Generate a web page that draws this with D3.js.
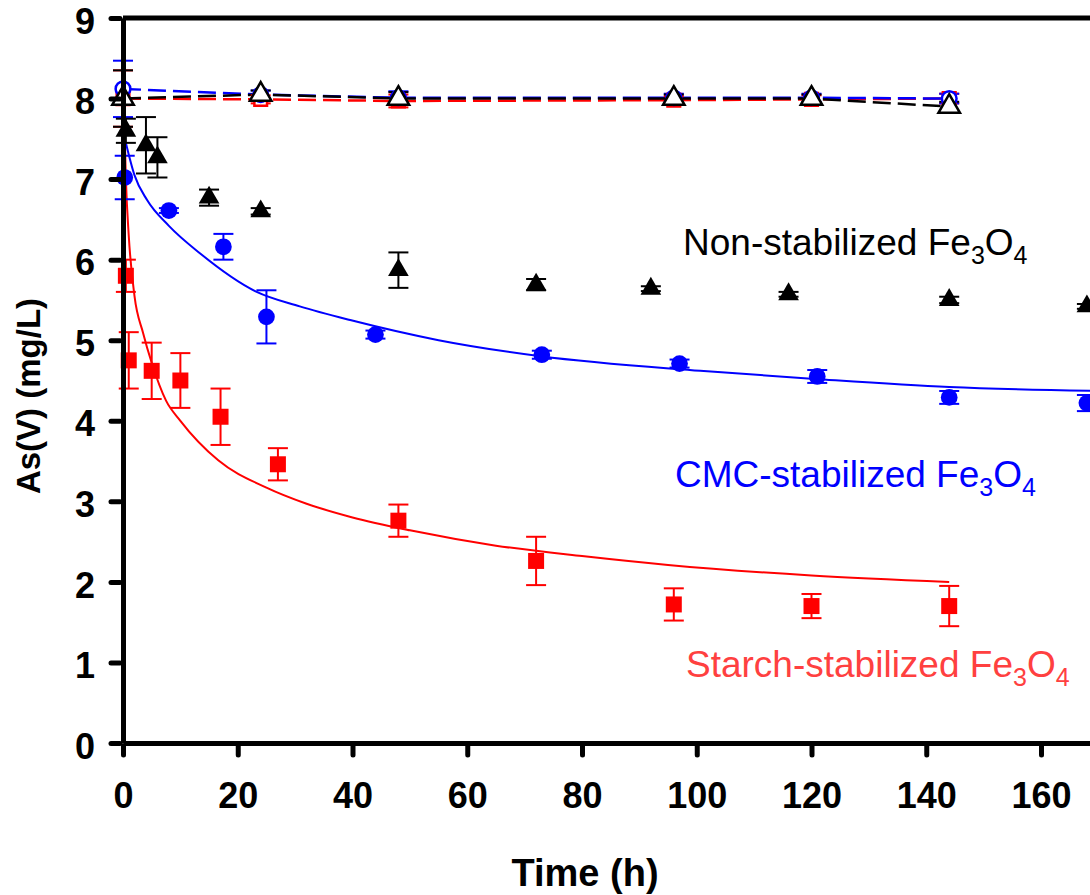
<!DOCTYPE html>
<html>
<head>
<meta charset="utf-8">
<script src="https://cdn.jsdelivr.net/npm/d3@7"></script>
<style>
  body { margin: 0; background: #fff; }
  svg { display: block; font-family: Arial, "Liberation Sans", sans-serif; }
</style>
</head>
<body>
<div id="graph"></div>
<script>
// measured points (time in h, As(V) in mg/L, sd)
const starchT = [0.5, 1, 5, 10, 17, 27, 48, 72, 96, 120, 144];
const starchV = [5.8, 4.75, 4.62, 4.5, 4.05, 3.46, 2.76, 2.26, 1.72, 1.7, 1.7];
const starchE = [0.2, 0.35, 0.35, 0.34, 0.35, 0.2, 0.2, 0.3, 0.2, 0.15, 0.25];

const cmcT = [0.3, 8, 17.5, 25, 44, 73, 97, 121, 144, 168];
const cmcV = [7.02, 6.61, 6.16, 5.29, 5.07, 4.82, 4.71, 4.55, 4.29, 4.22];
const cmcE = [0.27, 0.03, 0.16, 0.33, 0.05, 0.05, 0.05, 0.08, 0.08, 0.1];

const bareT = [0.5, 4, 6, 15, 24, 48, 72, 92, 116, 144, 168];
const bareV = [7.6, 7.42, 7.27, 6.77, 6.6, 5.87, 5.69, 5.64, 5.57, 5.5, 5.42];
const bareE = [0.15, 0.35, 0.25, 0.1, 0.04, 0.22, 0.07, 0.03, 0.03, 0.04, 0.03];

// controls without nanoparticles
const ctrlT = [0, 24, 48, 96, 120, 144];
const ctrlStarchV = [8.0, 7.99, 7.97, 7.98, 7.99, 8.0];
const ctrlCmcV = [8.12, 8.05, 8.01, 8.01, 8.01, 8.0];
const ctrlBareV = [8.0, 8.05, 8.0, 8.0, 8.0, 7.9];
const ctrlE = [0.35, 0.05, 0.08, 0.05, 0.05, 0.06];

// fitted model curves
const starchFitT = [0.15, 0.5, 1, 2, 3.5, 5, 7.5, 10, 16.6, 25, 32, 40, 50, 65, 80, 95, 120, 144];
const starchFitV = [7.95, 7.0, 6.3, 5.55, 5.09, 4.72, 4.25, 4.0, 3.51, 3.17, 2.97, 2.8, 2.64, 2.45, 2.32, 2.21, 2.08, 2.0];
const cmcFitT = [0.5, 2, 4.2, 8, 13.4, 23.3, 30.8, 39.6, 55, 72.8, 100.6, 120.6, 144, 170];
const cmcFitV = [7.45, 7.05, 6.74, 6.42, 6.08, 5.6, 5.42, 5.25, 5.0, 4.8, 4.62, 4.52, 4.42, 4.37];

const xTicks = [0, 20, 40, 60, 80, 100, 120, 140, 160];
const yTicks = [0, 1, 2, 3, 4, 5, 6, 7, 8, 9];

const w = 1090;
const h = 895;

const xScale = d3.scaleLinear().domain([0, 170]).range([123, 123 + 170 * 5.7375]);
const yScale = d3.scaleLinear().domain([0, 9]).range([743, 18]);

const svg = d3.select('#graph').append('svg').attr('width', w).attr('height', h);

const RED = '#ff0000', BLUE = '#0000ff', BLACK = '#000000';

// top frame line
svg.append('line')
  .attr('x1', xScale(0)).attr('x2', xScale(170))
  .attr('y1', yScale(9)).attr('y2', yScale(9))
  .attr('stroke', BLACK).attr('stroke-width', 5);

const zip = (t, v, e) => t.map((d, i) => ({t: d, v: v[i], e: e ? e[i] : 0}));

function errorBars(data, color) {
  const g = svg.append('g').attr('stroke', color).attr('stroke-width', 2);
  data.forEach((d) => {
    const x = xScale(d.t);
    g.append('line').attr('x1', x).attr('x2', x)
      .attr('y1', yScale(d.v - d.e)).attr('y2', yScale(d.v + d.e));
    [d.v - d.e, d.v + d.e].forEach((v) => {
      g.append('line').attr('x1', x - 10).attr('x2', x + 10)
        .attr('y1', yScale(v)).attr('y2', yScale(v));
    });
  });
}

function markers(data, type, size, fill, stroke) {
  svg.append('g').selectAll('path').data(data).enter().append('path')
    .attr('d', d3.symbol().type(type).size(size))
    .attr('transform', (d) => 'translate(' + xScale(d.t) + ',' + yScale(d.v) + ')')
    .attr('fill', fill).attr('stroke', stroke).attr('stroke-width', stroke == 'none' ? 0 : 2.5);
}

const line = d3.line().x((d) => xScale(d.t)).y((d) => yScale(d.v));

// dashed control lines
const controls = [
  {v: ctrlStarchV, c: RED},
  {v: ctrlCmcV, c: BLUE},
  {v: ctrlBareV, c: BLACK}
];
controls.forEach((s) => {
  svg.append('path').datum(zip(ctrlT, s.v))
    .attr('d', line).attr('fill', 'none')
    .attr('stroke', s.c).attr('stroke-width', 2.5).attr('stroke-dasharray', '18,7');
});
controls.forEach((s) => errorBars(zip(ctrlT, s.v, ctrlE), s.c));

// fitted curves
const smooth = d3.line().curve(d3.curveMonotoneX).x((d) => xScale(d.t)).y((d) => yScale(d.v));
svg.append('path').datum(zip(starchFitT, starchFitV))
  .attr('d', smooth).attr('fill', 'none').attr('stroke', RED).attr('stroke-width', 2);
svg.append('path').datum(zip(cmcFitT, cmcFitV))
  .attr('d', smooth).attr('fill', 'none').attr('stroke', BLUE).attr('stroke-width', 2);

// measured series
errorBars(zip(bareT, bareV, bareE), BLACK);
markers(zip(bareT, bareV), d3.symbolTriangle, 185, BLACK, 'none');
errorBars(zip(cmcT, cmcV, cmcE), BLUE);
markers(zip(cmcT, cmcV), d3.symbolCircle, 220, BLUE, 'none');
errorBars(zip(starchT, starchV, starchE), RED);
markers(zip(starchT, starchV), d3.symbolSquare, 256, RED, 'none');

// control markers on top
markers(zip(ctrlT, ctrlStarchV), d3.symbolSquare, 160, '#fff', RED);
markers(zip(ctrlT, ctrlCmcV), d3.symbolCircle, 170, '#fff', BLUE);
markers(zip(ctrlT, ctrlBareV), d3.symbolTriangle, 200, '#fff', BLACK);

// axes
const xAxis = d3.axisBottom(xScale).tickValues(xTicks).tickSize(12).tickSizeOuter(0).tickPadding(27);
const yAxis = d3.axisLeft(yScale).tickValues(yTicks).tickSize(12).tickSizeOuter(0).tickPadding(16);

const gx = svg.append('g').attr('transform', 'translate(0,' + yScale(0) + ')').call(xAxis);
const gy = svg.append('g').attr('transform', 'translate(' + xScale(0) + ',0)').call(yAxis);
[gx, gy].forEach((g) => {
  g.select('.domain').attr('stroke-width', 5);
  g.selectAll('.tick line').attr('stroke-width', 5).attr('stroke-linecap', 'round');
  g.selectAll('.tick text').attr('font-size', 36).attr('font-weight', 'bold')
    .attr('font-family', 'Arial, "Liberation Sans", sans-serif').attr('fill', BLACK);
});
gx.selectAll('.tick line').attr('y1', 3);
gy.selectAll('.tick line').attr('x1', -3);
gy.selectAll('.tick text').attr('dy', '0.42em');

svg.append('text').attr('x', 585).attr('y', 886).attr('text-anchor', 'middle')
  .attr('font-size', 38).attr('font-weight', 'bold').text('Time (h)');
svg.append('text').attr('transform', 'translate(40,396) rotate(-90)').attr('text-anchor', 'middle')
  .attr('font-size', 33).attr('font-weight', 'bold').text('As(V) (mg/L)');

// series labels
const labels = [
  {text: 'Non-stabilized Fe', x: 683, y: 255, c: BLACK},
  {text: 'CMC-stabilized Fe', x: 675, y: 487, c: BLUE},
  {text: 'Starch-stabilized Fe', x: 686, y: 677, c: '#ff4040'}
];
labels.forEach((l) => {
  const t = svg.append('text').attr('x', l.x).attr('y', l.y).attr('font-size', 37).attr('fill', l.c);
  t.append('tspan').text(l.text);
  t.append('tspan').attr('font-size', 25).attr('dy', 9).text('3');
  t.append('tspan').attr('dy', -9).text('O');
  t.append('tspan').attr('font-size', 25).attr('dy', 9).text('4');
});
</script>
</body>
</html>
